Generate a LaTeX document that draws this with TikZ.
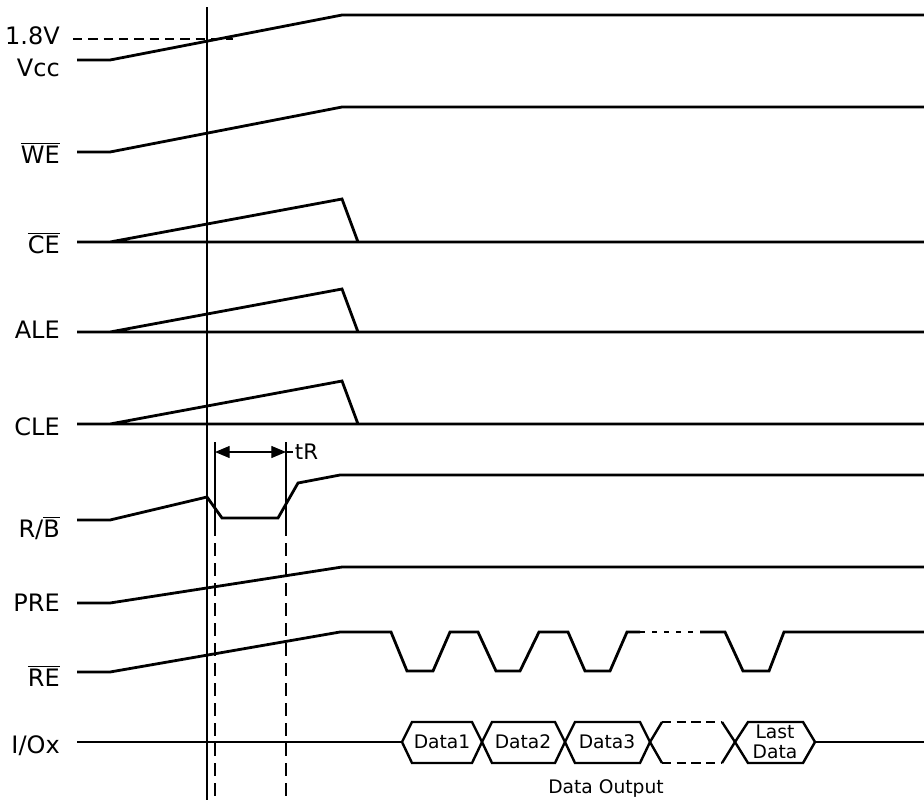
\documentclass[tikz,border=0pt]{standalone}
\usepackage{fontspec}
\setmainfont{DejaVu Sans}
\usetikzlibrary{arrows.meta,positioning}
\newcommand{\ovl}[1]{$\overline{\mbox{#1}}$}

\begin{document}
\begin{tikzpicture}[x=0.75pt,y=-0.75pt,
  sig/.style={line width=2.1pt,line join=miter},
  lbl/.style={anchor=base east,font=\fontsize{18}{20}\selectfont,inner sep=0pt},
  dat/.style={font=\fontsize{14}{15}\selectfont,inner sep=0pt,align=center},
  bus/.style={line width=1.8pt,line join=miter},
  guide/.style={line width=0.9pt},
  gdash/.style={guide,dash pattern=on 10pt off 5pt},
  arr/.style={{Triangle[length=11pt,width=9pt]}-{Triangle[length=11pt,width=9pt]},line width=0.9pt}]
\useasboundingbox (0,0) rectangle (924,804);
\node[lbl] (volt) at (60,44) {1.8V};
\node[lbl] (vcc) at (60,76) {Vcc};
\node[lbl] (we) at (60,163) {\ovl{WE}};
\node[lbl] (ce) at (60,253) {\ovl{CE}};
\node[lbl] (ale) at (60,338) {ALE};
\node[lbl] (cle) at (60,435) {CLE};
\node[lbl] (rb) at (60,537) {R/\ovl{B}};
\node[lbl] (pre) at (60,611) {PRE};
\node[lbl] (re) at (60,686) {\ovl{RE}};
\node[lbl] (io) at (60,753) {I/Ox};
\draw[sig] (77,60) -- (110,60) -- (342,15) -- (924,15);
\draw[line width=1.7pt,dash pattern=on 7pt off 4.5pt] (73,39) -- (233,39);
\draw[sig] (77,152) -- (110,152) -- (342,107) -- (924,107);
\draw[sig] (77,242) -- (924,242) (110,242) -- (342,199) -- (358,242);
\draw[sig] (77,332) -- (924,332) (110,332) -- (342,289) -- (358,332);
\draw[sig] (77,424) -- (924,424) (110,424) -- (342,381) -- (358,424);
\draw[sig] (77,520) -- (110,520) -- (207,497) -- (222,518) -- (278,518) -- (298,483) -- (340,475) -- (924,475);
\draw[sig] (77,603) -- (110,603) -- (342,567) -- (924,567);
\draw[sig] (77,672) -- (110,672) -- (340,632) -- (391,632) -- (407,671) -- (433,671) -- (450,632) -- (478,632) -- (496,671) -- (520,671) -- (539,632) -- (568,632) -- (585,671) -- (610,671) -- (627,632) -- (640,632);
\draw[sig,dash pattern=on 4pt off 5pt] (640,632) -- (700,632);
\draw[sig] (700,632) -- (725,632) -- (743,671) -- (769,671) -- (784,632) -- (924,632);
\draw[bus] (77,742) -- (402,742) (815,742) -- (924,742);
\draw[bus] (402,742) -- (412,722) -- (472,722) -- (482,742) -- (472,763) -- (412,763) -- cycle;
\draw[bus] (482,742) -- (492,722) -- (555,722) -- (565,742) -- (555,763) -- (492,763) -- cycle;
\draw[bus] (565,742) -- (575,722) -- (640,722) -- (650,742) -- (640,763) -- (575,763) -- cycle;
\draw[bus] (662,722) -- (650,742) -- (662,763) (722,722) -- (735,742) -- (722,763);
\draw[bus,dash pattern=on 7pt off 4pt] (662,722) -- (722,722) (662,763) -- (722,763);
\draw[bus] (735,742) -- (748,722) -- (803,722) -- (815,742) -- (803,763) -- (748,763) -- cycle;
\node[dat] (d1) at (442,742) {Data1};
\node[dat] (d2) at (523,742) {Data2};
\node[dat] (d3) at (607,742) {Data3};
\node[dat] (dl) at (775,742) {Last\\Data};
\node[dat] (dout) at (606,788) {Data Output};
\draw[guide] (207,7) -- (207,800);
\coordinate (ta) at (215,452);
\coordinate (tb) at (286,452);
\draw[guide] (215,442) -- (215,523) (286,442) -- (286,523);
\draw[gdash] (215,523) -- (215,800) (286,523) -- (286,800);
\draw[arr] (ta) -- (tb);
\draw[guide] (tb) -- ++(7,0) node[right=1pt,dat,font=\fontsize{16}{18}\selectfont] (tr) {tR};
\end{tikzpicture}
\end{document}
